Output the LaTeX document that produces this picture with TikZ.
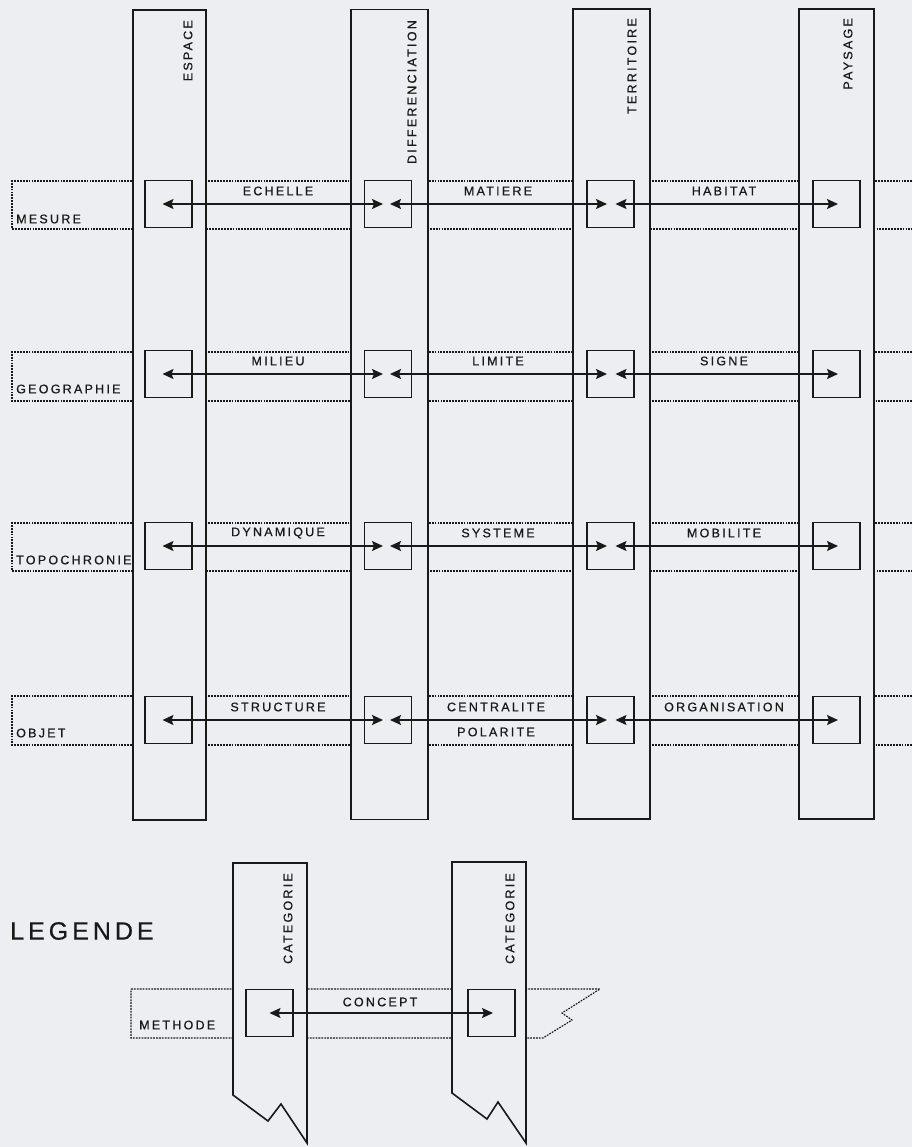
\documentclass[tikz,border=0pt]{standalone}
\usepackage{fontspec}
\setmainfont{Liberation Sans}
\usetikzlibrary{arrows.meta}
\definecolor{bgc}{RGB}{236,238,241}
\definecolor{ink}{RGB}{25,25,25}
\begin{document}
\begin{tikzpicture}[x=1pt,y=-1pt,
  colbox/.style={draw=ink,line width=1.6pt,fill=bgc,minimum width=73pt,minimum height=810pt,inner sep=0pt},
  sq/.style={draw=ink,line width=1.3pt,minimum width=47pt,minimum height=47pt,inner sep=0pt},
  band/.style={draw=ink,line width=1.1pt,dash pattern=on 1.8pt off 1.1pt},
  arr/.style={draw=ink,line width=1.4pt,{Stealth[length=11pt,width=10pt,inset=2pt]}-{Stealth[length=11pt,width=10pt,inset=2pt]}},
  lab/.style={text=ink,inner sep=0pt,font=\fontsize{12.5}{14}\selectfont\addfontfeatures{LetterSpace=18,FakeBold=0.6}},
  vlab/.style={lab,rotate=90,anchor=east},
  rlab/.style={lab,anchor=west}]
\useasboundingbox[fill=bgc] (0,0) rectangle (912,1147);
% row bands
\foreach \t/\b in {181/229,352/401,523/571,696/745}{
  \draw[band] (912,\t) -- (12,\t) -- (12,\b) -- (912,\b);
}
% legend band
\draw[band] (131,989) -- (600,989) -- (562,1013) -- (572,1020) -- (543,1038) -- (131,1038) -- cycle;
% columns
\node[colbox] (c1) at (169.5,415) {};
\node[colbox,minimum width=77pt] (c2) at (389.5,414.5) {};
\node[colbox,minimum width=77pt] (c3) at (611.5,414) {};
\node[colbox,minimum width=75pt] (c4) at (836.5,414) {};
\node[vlab] (t1) at (188,20) {ESPACE};
\node[vlab] (t2) at (412,20) {DIFFERENCIATION};
\node[vlab] (t3) at (632,18) {TERRITOIRE};
\node[vlab] (t4) at (848,18) {PAYSAGE};
% legend columns
\draw[ink,line width=1.6pt,fill=bgc] (233,863) -- (307,863) -- (307,1143) -- (281,1104) -- (268,1121) -- (233,1095) -- cycle;
\draw[ink,line width=1.6pt,fill=bgc] (452,862) -- (526,862) -- (526,1143) -- (498,1102) -- (487,1119) -- (452,1093) -- cycle;
\node[vlab] (lt1) at (288,873) {CATEGORIE};
\node[vlab] (lt2) at (510,873) {CATEGORIE};
% squares
\foreach \r/\y in {1/204,2/374,3/546,4/720}{
  \node[sq] (s\r1) at (168.5,\y) {};
  \node[sq] (s\r2) at (388,\y) {};
  \node[sq] (s\r3) at (610.5,\y) {};
  \node[sq] (s\r4) at (836.5,\y) {};
  \draw[arr,shorten <=-6pt,shorten >=5pt] (s\r1.center) -- (s\r2.center);
  \draw[arr,shorten <=2pt,shorten >=3.5pt] (s\r2.center) -- (s\r3.center);
  \draw[arr,shorten <=5pt,shorten >=-1.5pt] (s\r3.center) -- (s\r4.center);
}
\node[sq] (ls1) at (269.5,1013) {};
\node[sq] (ls2) at (491.5,1013) {};
\draw[arr,shorten >=-1.5pt] (ls1.center) -- (ls2.center);
% row labels
\node[rlab] (r1) at (16,219) {MESURE};
\node[rlab] (r2) at (16,389) {GEOGRAPHIE};
\node[rlab] (r3) at (16,560) {TOPOCHRONIE};
\node[rlab] (r4) at (16,733) {OBJET};
\node[rlab] (r5) at (139,1025) {METHODE};
% concept labels
\node[lab] (e11) at (278,191) {ECHELLE};
\node[lab] (e12) at (498,191) {MATIERE};
\node[lab] (e13) at (724,191) {HABITAT};
\node[lab] (e21) at (278,361) {MILIEU};
\node[lab] (e22) at (498,361) {LIMITE};
\node[lab] (e23) at (724,361) {SIGNE};
\node[lab] (e31) at (278,533) {DYNAMIQUE};
\node[lab] (e32) at (498,533) {SYSTEME};
\node[lab] (e33) at (724,533) {MOBILITE};
\node[lab] (e41) at (278,707) {STRUCTURE};
\node[lab] (e42) at (496,707) {CENTRALITE};
\node[lab] (e42b) at (496,732) {POLARITE};
\node[lab] (e43) at (724,707) {ORGANISATION};
\node[lab] (lc) at (380,1002) {CONCEPT};
\node[text=ink,inner sep=0pt,anchor=west,font=\fontsize{25}{28}\selectfont\addfontfeatures{LetterSpace=16,FakeBold=0.5}] (leg) at (10,931) {LEGENDE};
\end{tikzpicture}
\end{document}
